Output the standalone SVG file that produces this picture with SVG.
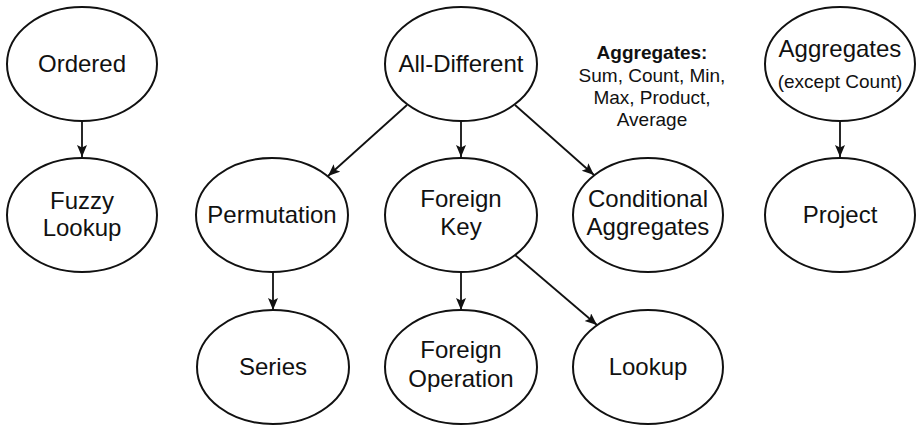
<svg xmlns="http://www.w3.org/2000/svg" width="916" height="425" viewBox="0 0 916 425">
<defs>
<marker id="ah" markerUnits="userSpaceOnUse" markerWidth="14" markerHeight="12" refX="12" refY="5" orient="auto">
<path d="M0,0 L12,5 L0,10 L2.5,5 z" fill="#111"/>
</marker>
<style>
.n{fill:#fff;stroke:#111;stroke-width:2}
.t{font-family:"Liberation Sans",Arial,sans-serif;font-size:24px;fill:#111;text-anchor:middle}
.s{font-family:"Liberation Sans",Arial,sans-serif;font-size:19px;fill:#111;text-anchor:middle}
.b{font-weight:bold}
.c{stroke:#111;stroke-width:1.8;fill:none;marker-end:url(#ah)}
</style>
</defs>
<rect width="916" height="425" fill="#fff"/>
<g id="connectors">
<line class="c" x1="82" y1="121" x2="82" y2="157"/>
<line class="c" x1="461" y1="121" x2="461" y2="157"/>
<line class="c" x1="407" y1="105" x2="328" y2="176"/>
<line class="c" x1="515" y1="105" x2="594" y2="175"/>
<line class="c" x1="273" y1="272" x2="273" y2="310"/>
<line class="c" x1="461" y1="272" x2="461" y2="310"/>
<line class="c" x1="515" y1="255" x2="597" y2="325"/>
<line class="c" x1="840" y1="121" x2="840" y2="157"/>
</g>
<g id="ordered"><ellipse class="n" cx="82" cy="64" rx="75" ry="57"/><text class="t" x="82" y="72">Ordered</text></g>
<g id="fuzzy-lookup"><ellipse class="n" cx="82" cy="215" rx="75" ry="57"/><text class="t" x="82" y="209">Fuzzy</text><text class="t" x="82" y="236">Lookup</text></g>
<g id="all-different"><ellipse class="n" cx="461" cy="64" rx="76" ry="57"/><text class="t" x="461" y="72">All-Different</text></g>
<g id="permutation"><ellipse class="n" cx="272" cy="215" rx="76" ry="57"/><text class="t" x="272" y="223">Permutation</text></g>
<g id="foreign-key"><ellipse class="n" cx="461" cy="215" rx="76" ry="57"/><text class="t" x="461" y="207">Foreign</text><text class="t" x="461" y="235">Key</text></g>
<g id="conditional-aggregates"><ellipse class="n" cx="648" cy="215" rx="75" ry="57"/><text class="t" x="648" y="207">Conditional</text><text class="t" x="648" y="235">Aggregates</text></g>
<g id="series"><ellipse class="n" cx="273" cy="367" rx="76" ry="57"/><text class="t" x="273" y="375">Series</text></g>
<g id="foreign-operation"><ellipse class="n" cx="461" cy="367" rx="76" ry="57"/><text class="t" x="461" y="358">Foreign</text><text class="t" x="461" y="387">Operation</text></g>
<g id="lookup"><ellipse class="n" cx="648" cy="367" rx="75" ry="57"/><text class="t" x="648" y="375">Lookup</text></g>
<g id="aggregates-except-count"><ellipse class="n" cx="840" cy="64" rx="75" ry="57"/><text class="t" x="840" y="57">Aggregates</text><text class="s" x="840" y="88">(except Count)</text></g>
<g id="project"><ellipse class="n" cx="840" cy="215" rx="75" ry="57"/><text class="t" x="840" y="223">Project</text></g>
<g id="aggregates-note">
<text class="s b" x="652" y="59">Aggregates:</text>
<text class="s" x="652" y="82">Sum, Count, Min,</text>
<text class="s" x="652" y="104">Max, Product,</text>
<text class="s" x="652" y="126">Average</text>
</g>
</svg>
